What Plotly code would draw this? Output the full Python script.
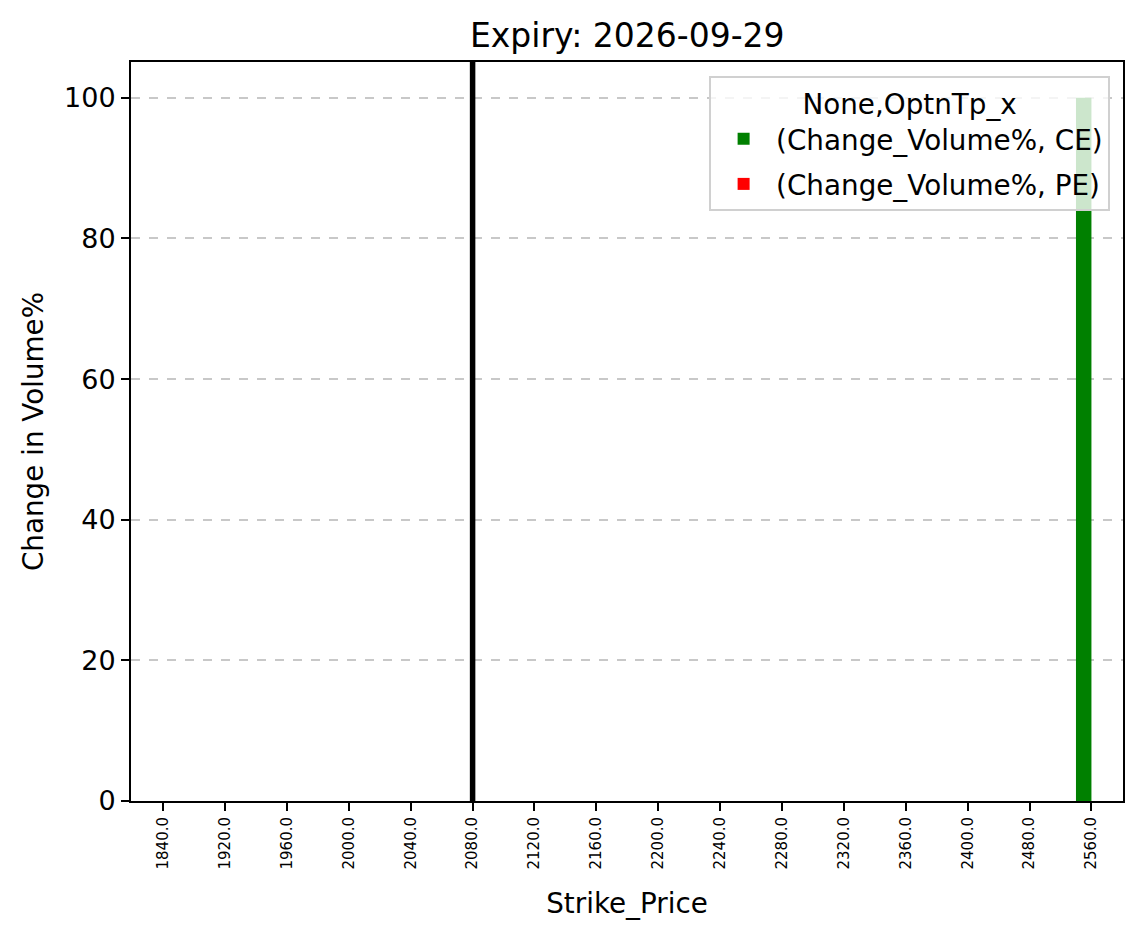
import plotly.graph_objects as go

strikes = ["1840.0", "1920.0", "1960.0", "2000.0", "2040.0", "2080.0", "2120.0", "2160.0",
           "2200.0", "2240.0", "2280.0", "2320.0", "2360.0", "2400.0", "2480.0", "2560.0"]
ce_change = [0, 0, 0, 0, 0, 0, 0, 0, 0, 0, 0, 0, 0, 0, 0, 100]
pe_change = [0, 0, 0, 0, 0, 0, 0, 0, 0, 0, 0, 0, 0, 0, 0, 0]
spot_strike = "2080.0"
y_ticks = [0, 20, 40, 60, 80, 100]

FONT = "DejaVu Sans"

fig = go.Figure()
fig.add_trace(go.Bar(x=strikes, y=ce_change, name="(Change_Volume%, CE)", legendgroup="ce",
                     marker=dict(color="#008000", line=dict(width=0))))
fig.add_trace(go.Bar(x=strikes, y=pe_change, name="(Change_Volume%, PE)", legendgroup="pe",
                     marker=dict(color="#ff0000", line=dict(width=0))))

fig.add_vline(x=strikes.index(spot_strike), line=dict(color="black", width=5.5), layer="above")

fig.update_layout(
    width=1143, height=939,
    margin=dict(l=131, r=20, t=62, b=138),
    paper_bgcolor="white", plot_bgcolor="white",
    barmode="group", bargap=0.5, bargroupgap=0,
    font=dict(family=FONT, color="black", size=27.8),
    title=dict(text="Expiry: 2026-09-29", x=0.5488, xanchor="center", y=1 - 35/939, yanchor="middle",
               font=dict(size=33, family=FONT, color="black")),
    legend=dict(
        x=0.987, y=0.981, xanchor="right", yanchor="top",
        bgcolor="rgba(255,255,255,0.8)", bordercolor="#d0d0d0", borderwidth=2,
        title=dict(text="None,OptnTp_x", side="top center", font=dict(size=27.8, family=FONT)),
        font=dict(size=27.8, family=FONT),
        itemwidth=55, tracegroupgap=6,
    ),
)

fig.update_xaxes(
    type="category", range=[-0.52, 15.51],
    showline=True, linecolor="black", linewidth=2, mirror=True,
    ticks="outside", ticklen=8, tickwidth=2, tickcolor="black",
    tickangle=-90, tickfont=dict(size=15, family=FONT),
    showgrid=False,
    title=dict(text="Strike_Price", font=dict(size=27.8, family=FONT), standoff=25),
)
fig.update_yaxes(
    range=[0, 105.1], tickvals=y_ticks,
    showline=True, linecolor="black", linewidth=2, mirror=True,
    ticks="outside", ticklen=8, tickwidth=2, tickcolor="black",
    tickfont=dict(size=27, family=FONT),
    showgrid=True, gridcolor="#c8c8c8", griddash="dash", gridwidth=1.5,
    zeroline=False,
    title=dict(text="Change in Volume%", font=dict(size=27.8, family=FONT), standoff=12),
)

fig.write_html("out.html")
